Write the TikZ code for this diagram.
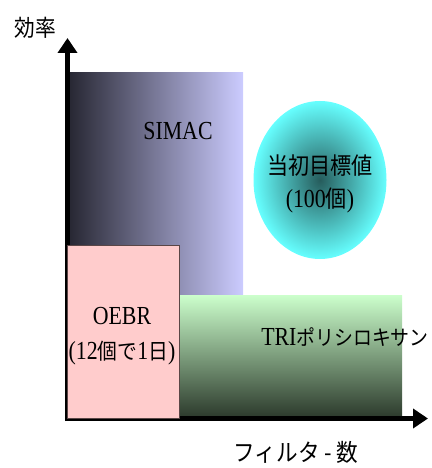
\documentclass[tikz,border=0pt]{standalone}
\usepackage{fontspec}
\usetikzlibrary{shapes.geometric,arrows.meta}
\newfontfamily\jpf[FakeStretch=0.9]{Noto Sans CJK JP}
\newfontfamily\latf[FakeStretch=0.84]{Liberation Serif}
\newcommand\mysize[2]{\fontsize{#1}{#2}\selectfont}
\definecolor{simacdark}{RGB}{40,40,52}
\definecolor{simaclight}{RGB}{204,204,255}
\definecolor{trilight}{RGB}{204,255,204}
\definecolor{tridark}{RGB}{44,58,44}
\definecolor{oebrfill}{RGB}{255,204,204}
\definecolor{oebrline}{RGB}{90,70,70}
\definecolor{goalin}{RGB}{38,92,92}
\definecolor{goalout}{RGB}{102,255,255}
\tikzset{
  axisline/.style={line width=5.5pt,-{Triangle[length=15pt,width=19pt]}},
  jplabel/.style={font=\jpf\mysize{23}{30}, inner sep=0pt},
  boxlabel/.style={align=center, inner sep=0pt},
}
\begin{document}
\begin{tikzpicture}[x=1pt,y=-1pt]
\useasboundingbox (0,0) rectangle (431,468);
% SIMAC region
\shade[left color=simacdark, right color=simaclight] (70,73) rectangle (243,295);
% TRI region
\shade[top color=trilight, bottom color=tridark] (179,295) rectangle (402,417);
% axes
\coordinate (yo) at (67.5,421);
\coordinate (ytip) at (67.5,38);
\coordinate (xo) at (65,418.5);
\coordinate (xtip) at (428,418.5);
\draw[axisline] (yo) -- (ytip);
\draw[axisline] (xo) -- (xtip);
% OEBR region
\node[draw=oebrline, line width=0.8pt, fill=oebrfill, minimum width=112pt, minimum height=173pt, anchor=north west, inner sep=0pt] (oebr) at (67,245) {};
% goal ellipse
\node[ellipse, minimum width=133pt, minimum height=158pt, inner sep=0pt, shading=radial, inner color=goalin, outer color=goalout] (goal) at (320,180) {};
% labels
\node[jplabel] (ylab) at (35,28) {効率};
\node[jplabel, font=\jpf\mysize{24}{30}] (xlab) at (296,452) {フィルタ - 数};
\node[boxlabel, font=\latf\mysize{26}{30}] (simac) at (178,131) {SIMAC};
\node[boxlabel, font=\jpf\mysize{23.5}{33}] (goaltext) at (320,184) {当初目標値\\{\latf\mysize{26}{33}(100}個{\latf\mysize{26}{33})}};
\node[boxlabel, font=\latf\mysize{26}{35}] (oebrtext) at (122,336) {OEBR\\(12{\jpf\mysize{22}{35}個で}1{\jpf\mysize{22}{35}日})};
\node[boxlabel, font=\latf\mysize{26}{30}] (tritext) at (345,337) {TRI{\jpf\mysize{21}{30}ポリシロキサン}};
\end{tikzpicture}
\end{document}
